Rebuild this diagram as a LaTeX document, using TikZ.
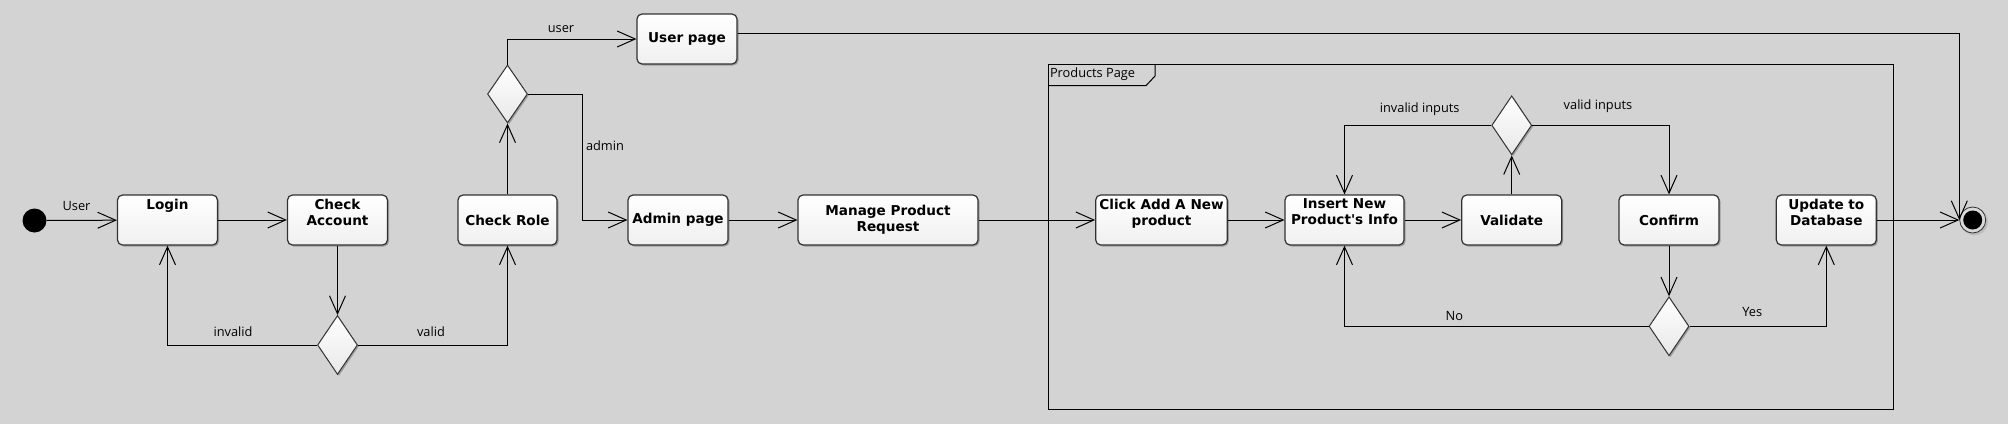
\documentclass[tikz,border=0pt]{standalone}
\usepackage{fontspec}
\newfontfamily\boxfont{DejaVu Sans}
\newfontfamily\lblfont{Open Sans}
\usetikzlibrary{arrows.meta,shapes.geometric,shadows,calc}
\definecolor{bg}{RGB}{211,211,211}
\definecolor{edge}{RGB}{50,50,50}
\tikzset{
  act/.style={draw=edge, line width=1.2pt, rounded corners=5pt,
    top color=white, bottom color=gray!12,
    drop shadow={shadow xshift=1.5pt,shadow yshift=-1.5pt,fill=black,opacity=0.25},
    minimum height=50pt, inner sep=2pt, align=center,
    font=\boxfont\bfseries\fontsize{13.6}{16}\selectfont},
  dec/.style={diamond, draw=edge, line width=1pt,
    top color=white, bottom color=gray!18,
    drop shadow={shadow xshift=1.5pt,shadow yshift=-1.5pt,fill=black,opacity=0.25},
    minimum width=40pt, minimum height=59pt, inner sep=0pt},
  lbl/.style={font=\lblfont\fontsize{12.8}{15}\selectfont, inner sep=0pt},
  arr/.style={line width=1pt, -{Straight Barb[length=18pt,width=16pt]}},
}
\begin{document}
\begin{tikzpicture}[x=1pt,y=-1pt]
\fill[bg] (0,0) rectangle (2008,424);
\useasboundingbox (0,0) rectangle (2008,424);

% frame
\draw[line width=1pt] (1048.3,64.3) rectangle (1893.7,409);
\draw[line width=1pt] (1048.3,85.7) -- (1146,85.7) -- (1155,76) -- (1155,64.3);
\node[lbl, anchor=west] (pp) at (1049.8,74) {Products Page};

% nodes
\node[circle, fill=black, minimum size=24pt, inner sep=0pt] (init) at (34.5,220.5) {};
\node[act, minimum width=100pt] (login) at (167.5,220) {Login\\~\\~};
\node[act, minimum width=100pt] (checkacc) at (337.5,220) {Check\\Account\\~};
\node[act, minimum width=99pt] (checkrole) at (507.5,220) {Check Role};
\node[dec] (dec1) at (337.5,345) {};
\node[dec, minimum height=58pt] (dec2) at (507.5,94) {};
\node[act, minimum width=100pt] (userpage) at (687,39) {User page};
\node[act, minimum width=100pt] (admin) at (678,220) {Admin page};
\node[act, minimum width=180pt] (manage) at (888,220) {Manage Product\\Request};
\node[act, minimum width=131.6pt] (click) at (1161.5,220) {Click Add A New\\product\\~};
\node[act, minimum width=119pt] (insert) at (1344.5,220) {Insert New\\Product's Info\\~};
\node[act, minimum width=100pt] (validate) at (1511.7,220) {Validate};
\node[dec] (dec3) at (1511.7,125.3) {};
\node[act, minimum width=100pt] (confirm) at (1669,220) {Confirm};
\node[dec] (dec4) at (1669,326.3) {};
\node[act, minimum width=100pt] (update) at (1826.3,220) {Update to\\Database\\~};
\node[circle, draw=edge, fill=gray!30, line width=0.8pt, minimum size=26pt, inner sep=0pt,
  circular drop shadow={shadow scale=1.1,opacity=0.3}] (fin) at (1972.7,220) {};
\fill[black] (fin.center) circle[radius=9.5];

% connectors
\draw[arr] (init) -- (login) node[lbl] at (76.5,205.7) {User};
\draw[arr] (login) -- (checkacc);
\draw[arr] (checkacc.south) -- (dec1.north);
\draw[arr] (dec1.west) -| (login.south) node[lbl] at (233,331.7) {invalid};
\draw[arr] (dec1.east) -| (checkrole.south) node[lbl] at (431,332) {valid};
\draw[arr] (checkrole.north) -- (dec2.south);
\draw[arr] (dec2.north) |- (userpage.west) node[lbl] at (561,29.3) {user};
\coordinate (ad1) at (582,94);
\draw[arr] (dec2.east) -- (ad1) |- (admin.west) node[lbl] at (605,145.7) {admin};
\draw[arr] (admin) -- (manage);
\draw[arr] (manage) -- (click);
\draw[arr] (click) -- (insert);
\draw[arr] (insert) -- (validate);
\draw[arr] (validate.north) -- (dec3.south);
\draw[arr] (dec3.west) -| (insert.north) node[lbl] at (1419.7,109.3) {invalid inputs};
\draw[arr] (dec3.east) -| (confirm.north) node[lbl] at (1598,105.7) {valid inputs};
\draw[arr] (confirm.south) -- (dec4.north);
\draw[arr] (dec4.west) -| (insert.south) node[lbl] at (1454.3,315.7) {No};
\draw[arr] (dec4.east) -| (update.south) node[lbl] at (1752.3,311.7) {Yes};
\draw[arr] (update) -- (fin);
\coordinate (up1) at ($(userpage.east)+(0,-6)$);
\draw[arr] (up1) -| (fin.west);
\end{tikzpicture}
\end{document}
